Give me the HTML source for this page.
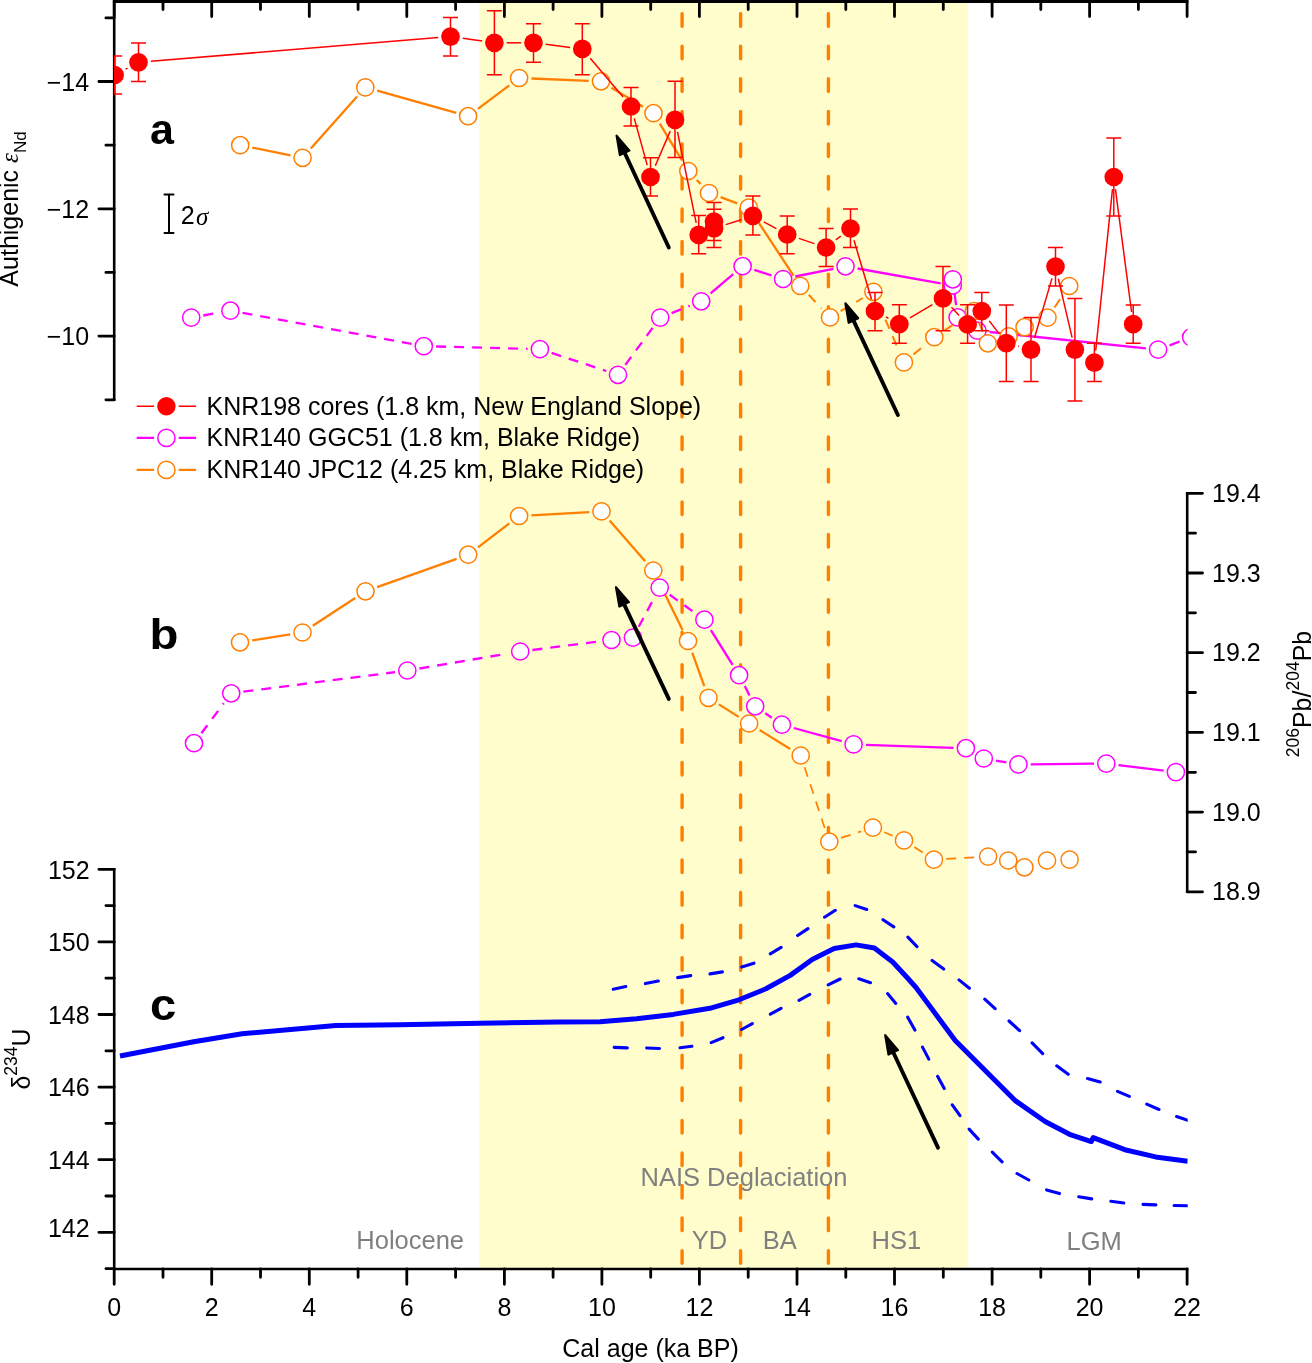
<!DOCTYPE html>
<html><head><meta charset="utf-8"><title>Chart</title>
<style>html,body{margin:0;padding:0;background:#fff;}svg{display:block;will-change:transform;}text{font-family:"Liberation Sans",sans-serif;}</style></head><body>
<svg width="1312" height="1363" viewBox="0 0 1312 1363">
<defs><clipPath id="pc"><rect x="114.0" y="0" width="1073.7" height="1363"/></clipPath></defs>
<rect width="1312" height="1363" fill="#fff"/>
<rect x="479.3" y="0" width="488.8" height="1268" fill="#FFFDCC"/>
<line x1="682.1" y1="13.7" x2="682.1" y2="1266" stroke="#FF7F00" stroke-width="3.4" stroke-linecap="round" stroke-dasharray="12.6 19.95"/>
<line x1="740.6" y1="13.7" x2="740.6" y2="1266" stroke="#FF7F00" stroke-width="3.4" stroke-linecap="round" stroke-dasharray="12.6 19.95"/>
<line x1="828.4" y1="13.7" x2="828.4" y2="1266" stroke="#FF7F00" stroke-width="3.4" stroke-linecap="round" stroke-dasharray="12.6 19.95"/>
<g fill="#808080" font-size="25.5">
<text x="640.5" y="1186">NAIS Deglaciation</text>
<text x="356.3" y="1249.3">Holocene</text>
<text x="691.7" y="1249.3">YD</text>
<text x="762.7" y="1249.3">BA</text>
<text x="871.6" y="1249.3">HS1</text>
<text x="1066.5" y="1249.5">LGM</text>
</g>
<line x1="112.9" y1="1.45" x2="1188.4" y2="1.45" stroke="#000" stroke-width="2.9"/>
<line x1="112.9" y1="1269" x2="1188.4" y2="1269" stroke="#000" stroke-width="2.6"/>
<line x1="114.2" y1="0" x2="114.2" y2="401.1" stroke="#000" stroke-width="2.6"/>
<line x1="114.2" y1="868" x2="114.2" y2="1269" stroke="#000" stroke-width="2.6"/>
<line x1="1187.2" y1="492" x2="1187.2" y2="893.1" stroke="#000" stroke-width="2.6"/>
<path d="M114.2 1.3V16.6M114.2 1269V1284.3M163 1.3V9.6M163 1269V1277.3M211.7 1.3V16.6M211.7 1269V1284.3M260.5 1.3V9.6M260.5 1269V1277.3M309.3 1.3V16.6M309.3 1269V1284.3M358.1 1.3V9.6M358.1 1269V1277.3M406.8 1.3V16.6M406.8 1269V1284.3M455.6 1.3V9.6M455.6 1269V1277.3M504.4 1.3V16.6M504.4 1269V1284.3M553.1 1.3V9.6M553.1 1269V1277.3M601.9 1.3V16.6M601.9 1269V1284.3M650.7 1.3V9.6M650.7 1269V1277.3M699.4 1.3V16.6M699.4 1269V1284.3M748.2 1.3V9.6M748.2 1269V1277.3M797 1.3V16.6M797 1269V1284.3M845.8 1.3V9.6M845.8 1269V1277.3M894.5 1.3V16.6M894.5 1269V1284.3M943.3 1.3V9.6M943.3 1269V1277.3M992.1 1.3V16.6M992.1 1269V1284.3M1040.8 1.3V9.6M1040.8 1269V1277.3M1089.6 1.3V16.6M1089.6 1269V1284.3M1138.4 1.3V9.6M1138.4 1269V1277.3M1187.1 1.3V16.6M1187.1 1269V1284.3M114.2 17.9H105.9M114.2 81.5H98.9M114.2 145.2H105.9M114.2 208.8H98.9M114.2 272.4H105.9M114.2 336.1H98.9M114.2 399.8H105.9M114.2 1268.6H105.9M114.2 1232.3H98.9M114.2 1196H105.9M114.2 1159.7H98.9M114.2 1123.4H105.9M114.2 1087.1H98.9M114.2 1050.8H105.9M114.2 1014.5H98.9M114.2 978.2H105.9M114.2 941.9H98.9M114.2 905.6H105.9M114.2 869.3H98.9M1187.2 493.3H1202.5M1187.2 533.2H1195.5M1187.2 573H1202.5M1187.2 612.8H1195.5M1187.2 652.7H1202.5M1187.2 692.5H1195.5M1187.2 732.4H1202.5M1187.2 772.3H1195.5M1187.2 812.1H1202.5M1187.2 851.9H1195.5M1187.2 891.8H1202.5" stroke="#000" stroke-width="2.8" fill="none" stroke-linecap="round"/>
<g clip-path="url(#pc)">
<path d="M613.2 989.2L625.8 986.6M645.4 983.6L658.3 981M677.6 977.6L690.7 975.6M710 973.9L722.4 971.9M741.7 967.1L753.9 963.2M770.3 953.8L781.1 947.4M797.6 935.5L808 928.6M824.5 917.2L835.3 910.3M855.2 905.6L866.8 909.5M883 919.7L893.8 926.9M907.9 937.2L917 946.6M932.1 960.5L943.7 969M959 979.9L969.4 988.2M984.7 999.2L995.1 1008.7M1009 1021L1019.6 1030.6M1032.1 1042.9L1042.7 1053.6M1056.7 1065.8L1068.2 1074.3M1087.5 1078.6L1100.2 1082M1117.5 1091.4L1129.4 1096.4M1146.7 1104.1L1159 1109.5M1176.6 1116.5L1188.5 1120.5" fill="none" stroke="#0000FF" stroke-width="3.1" stroke-linecap="round"/>
<path d="M614.2 1047.4L627.3 1047.9M646.6 1048L659.5 1048.5M680 1047.8L691.9 1046.3M711.2 1042.6L723 1037.7M741.6 1029.5L752.3 1023.6M770.4 1014.2L781 1008.3M799 1000.3L809.8 994.4M828.2 984.9L840.1 979M858.8 978.8L870.5 982.7M887.6 993.6L895.8 1003.4M907.7 1017.2L914.9 1030.1M922.5 1047.1L928.8 1059.1M937.6 1076.3L944.3 1088.4M952.3 1104.8L960 1115.7M969.1 1129.1L978.3 1139.1M992.3 1152.1L1002.1 1161.8M1017 1173.5L1028.8 1180M1046.6 1189.9L1059.5 1193.6M1078.7 1196.7L1091.7 1198.9M1110.9 1201.3L1123.8 1203M1143 1204.4L1155.9 1204.9M1174.1 1205.5L1188.5 1205.7" fill="none" stroke="#0000FF" stroke-width="3.1" stroke-linecap="round"/>
<polyline points="120,1056 193.7,1041.8 242.1,1033.7 335.8,1025.6 400,1024.7 480,1023.2 560,1022 600,1021.7 636.6,1018.8 673.2,1014.4 709.8,1008.3 739,999.8 765.9,988.8 790.2,975.4 812.2,959.5 834.1,948.5 856.1,944.9 874.4,948 892.7,962 907.3,977.8 916,987.5 938,1017.2 955.2,1040.5 1015.6,1100.9 1045.1,1121.5 1069.5,1134.3 1091.4,1141.5 1093.2,1137.6 1124.8,1149.7 1155.6,1156.9 1187.7,1161.3" fill="none" stroke="#0000FF" stroke-width="5" stroke-linejoin="round"/>
<line x1="201.4" y1="733.3" x2="223.8" y2="703.2" stroke="#FF00FF" stroke-width="2.3" stroke-dasharray="10 8"/>
<line x1="243.4" y1="691.7" x2="395.1" y2="672.1" stroke="#FF00FF" stroke-width="2.3" stroke-dasharray="10 8"/>
<line x1="419.4" y1="668.5" x2="508.1" y2="653.5" stroke="#FF00FF" stroke-width="2.3" stroke-dasharray="10 8"/>
<line x1="532.4" y1="650" x2="599.3" y2="641.5" stroke="#FF00FF" stroke-width="2.3" stroke-dasharray="10 8"/>
<line x1="638.7" y1="626.8" x2="653.9" y2="598.4" stroke="#FF00FF" stroke-width="2.3" stroke-dasharray="10 8"/>
<line x1="669.7" y1="594.8" x2="694.4" y2="612.5" stroke="#FF00FF" stroke-width="2.3" stroke-dasharray="10 8"/>
<line x1="710.9" y1="630.1" x2="732.6" y2="664.8" stroke="#FF00FF" stroke-width="2.3"/>
<line x1="744.8" y1="686.1" x2="749.5" y2="695.4" stroke="#FF00FF" stroke-width="2.3"/>
<line x1="765.3" y1="713.3" x2="771.8" y2="717.7" stroke="#FF00FF" stroke-width="2.3"/>
<line x1="793.8" y1="728" x2="841.7" y2="741.1" stroke="#FF00FF" stroke-width="2.3"/>
<line x1="865.9" y1="744.8" x2="953.6" y2="747.8" stroke="#FF00FF" stroke-width="2.3"/>
<line x1="995.9" y1="760.6" x2="1006.3" y2="762.3" stroke="#FF00FF" stroke-width="2.3"/>
<line x1="1030.7" y1="764.3" x2="1094" y2="763.7" stroke="#FF00FF" stroke-width="2.3"/>
<line x1="1118.5" y1="765.1" x2="1163.7" y2="770.6" stroke="#FF00FF" stroke-width="2.3"/>
<line x1="252.2" y1="640.4" x2="290.3" y2="634.4" stroke="#FF7F00" stroke-width="2.3"/>
<line x1="312.8" y1="625.8" x2="355.2" y2="598" stroke="#FF7F00" stroke-width="2.3"/>
<line x1="377.1" y1="587.2" x2="456.6" y2="558.8" stroke="#FF7F00" stroke-width="2.3"/>
<line x1="478" y1="547.3" x2="509.3" y2="523.4" stroke="#FF7F00" stroke-width="2.3"/>
<line x1="531.4" y1="515.3" x2="589.2" y2="512.1" stroke="#FF7F00" stroke-width="2.3"/>
<line x1="609.6" y1="520.6" x2="645.2" y2="561.3" stroke="#FF7F00" stroke-width="2.3"/>
<line x1="658.7" y1="581.5" x2="682.6" y2="630" stroke="#FF7F00" stroke-width="2.3"/>
<line x1="692.2" y1="652.6" x2="704.3" y2="686.2" stroke="#FF7F00" stroke-width="2.3"/>
<line x1="718.9" y1="704.4" x2="738.7" y2="716.9" stroke="#FF7F00" stroke-width="2.3"/>
<line x1="759.6" y1="730" x2="790.2" y2="749" stroke="#FF7F00" stroke-width="2.3"/>
<line x1="804.6" y1="767.2" x2="825.4" y2="830" stroke="#FF7F00" stroke-width="1.7" stroke-dasharray="10 8"/>
<line x1="841" y1="837.9" x2="861.2" y2="831.4" stroke="#FF7F00" stroke-width="1.7" stroke-dasharray="10 8"/>
<line x1="884.3" y1="832.3" x2="892.6" y2="835.7" stroke="#FF7F00" stroke-width="1.7" stroke-dasharray="10 8"/>
<line x1="914.3" y1="847" x2="923.6" y2="853" stroke="#FF7F00" stroke-width="1.7" stroke-dasharray="10 8"/>
<line x1="946.2" y1="858.9" x2="975.8" y2="857.3" stroke="#FF7F00" stroke-width="1.7" stroke-dasharray="10 8"/>
<circle cx="194" cy="743.2" r="8.6" fill="#fff" stroke="#FF00FF" stroke-width="1.5"/>
<circle cx="231.2" cy="693.3" r="8.6" fill="#fff" stroke="#FF00FF" stroke-width="1.5"/>
<circle cx="407.3" cy="670.5" r="8.6" fill="#fff" stroke="#FF00FF" stroke-width="1.5"/>
<circle cx="520.2" cy="651.5" r="8.6" fill="#fff" stroke="#FF00FF" stroke-width="1.5"/>
<circle cx="611.5" cy="640" r="8.6" fill="#fff" stroke="#FF00FF" stroke-width="1.5"/>
<circle cx="632.9" cy="637.6" r="8.6" fill="#fff" stroke="#FF00FF" stroke-width="1.5"/>
<circle cx="659.7" cy="587.6" r="8.6" fill="#fff" stroke="#FF00FF" stroke-width="1.5"/>
<circle cx="704.4" cy="619.7" r="8.6" fill="#fff" stroke="#FF00FF" stroke-width="1.5"/>
<circle cx="739.1" cy="675.2" r="8.6" fill="#fff" stroke="#FF00FF" stroke-width="1.5"/>
<circle cx="755.2" cy="706.3" r="8.6" fill="#fff" stroke="#FF00FF" stroke-width="1.5"/>
<circle cx="781.9" cy="724.7" r="8.6" fill="#fff" stroke="#FF00FF" stroke-width="1.5"/>
<circle cx="853.6" cy="744.4" r="8.6" fill="#fff" stroke="#FF00FF" stroke-width="1.5"/>
<circle cx="965.9" cy="748.2" r="8.6" fill="#fff" stroke="#FF00FF" stroke-width="1.5"/>
<circle cx="983.8" cy="758.5" r="8.6" fill="#fff" stroke="#FF00FF" stroke-width="1.5"/>
<circle cx="1018.4" cy="764.4" r="8.6" fill="#fff" stroke="#FF00FF" stroke-width="1.5"/>
<circle cx="1106.3" cy="763.6" r="8.6" fill="#fff" stroke="#FF00FF" stroke-width="1.5"/>
<circle cx="1175.9" cy="772.1" r="8.6" fill="#fff" stroke="#FF00FF" stroke-width="1.5"/>
<circle cx="240" cy="642.3" r="8.6" fill="#fff" stroke="#FF7F00" stroke-width="1.5"/>
<circle cx="302.5" cy="632.5" r="8.6" fill="#fff" stroke="#FF7F00" stroke-width="1.5"/>
<circle cx="365.5" cy="591.3" r="8.6" fill="#fff" stroke="#FF7F00" stroke-width="1.5"/>
<circle cx="468.2" cy="554.7" r="8.6" fill="#fff" stroke="#FF7F00" stroke-width="1.5"/>
<circle cx="519.1" cy="516" r="8.6" fill="#fff" stroke="#FF7F00" stroke-width="1.5"/>
<circle cx="601.5" cy="511.4" r="8.6" fill="#fff" stroke="#FF7F00" stroke-width="1.5"/>
<circle cx="653.3" cy="570.5" r="8.6" fill="#fff" stroke="#FF7F00" stroke-width="1.5"/>
<circle cx="688" cy="641" r="8.6" fill="#fff" stroke="#FF7F00" stroke-width="1.5"/>
<circle cx="708.5" cy="697.8" r="8.6" fill="#fff" stroke="#FF7F00" stroke-width="1.5"/>
<circle cx="749.1" cy="723.5" r="8.6" fill="#fff" stroke="#FF7F00" stroke-width="1.5"/>
<circle cx="800.7" cy="755.5" r="8.6" fill="#fff" stroke="#FF7F00" stroke-width="1.5"/>
<circle cx="829.3" cy="841.7" r="8.6" fill="#fff" stroke="#FF7F00" stroke-width="1.5"/>
<circle cx="872.9" cy="827.6" r="8.6" fill="#fff" stroke="#FF7F00" stroke-width="1.5"/>
<circle cx="904" cy="840.4" r="8.6" fill="#fff" stroke="#FF7F00" stroke-width="1.5"/>
<circle cx="933.9" cy="859.6" r="8.6" fill="#fff" stroke="#FF7F00" stroke-width="1.5"/>
<circle cx="988.1" cy="856.6" r="8.6" fill="#fff" stroke="#FF7F00" stroke-width="1.5"/>
<circle cx="1008.2" cy="860.5" r="8.6" fill="#fff" stroke="#FF7F00" stroke-width="1.5"/>
<circle cx="1024.4" cy="867.3" r="8.6" fill="#fff" stroke="#FF7F00" stroke-width="1.5"/>
<circle cx="1047" cy="860.5" r="8.6" fill="#fff" stroke="#FF7F00" stroke-width="1.5"/>
<circle cx="1069.6" cy="859.6" r="8.6" fill="#fff" stroke="#FF7F00" stroke-width="1.5"/>
<line x1="203.3" y1="315.5" x2="218.3" y2="312.8" stroke="#FF00FF" stroke-width="2.3" stroke-dasharray="10 8"/>
<line x1="242.5" y1="312.9" x2="411.7" y2="344" stroke="#FF00FF" stroke-width="2.3" stroke-dasharray="10 8"/>
<line x1="436.1" y1="346.5" x2="527.6" y2="348.8" stroke="#FF00FF" stroke-width="2.3" stroke-dasharray="10 8"/>
<line x1="551.6" y1="352.9" x2="606.3" y2="371" stroke="#FF00FF" stroke-width="2.3" stroke-dasharray="10 8"/>
<line x1="625.3" y1="364.9" x2="652.9" y2="327.5" stroke="#FF00FF" stroke-width="2.3" stroke-dasharray="10 8"/>
<line x1="671.6" y1="313.1" x2="689.8" y2="305.8" stroke="#FF00FF" stroke-width="2.3" stroke-dasharray="10 8"/>
<line x1="710.6" y1="293.3" x2="733.2" y2="274.2" stroke="#FF00FF" stroke-width="2.3"/>
<line x1="754.3" y1="269.9" x2="771.4" y2="275.3" stroke="#FF00FF" stroke-width="2.3"/>
<line x1="795.2" y1="276.5" x2="833.4" y2="268.8" stroke="#FF00FF" stroke-width="2.3"/>
<line x1="857.6" y1="268.5" x2="940.7" y2="283.3" stroke="#FF00FF" stroke-width="2.3"/>
<line x1="954.3" y1="291.5" x2="956.1" y2="305.2" stroke="#FF00FF" stroke-width="2.3"/>
<line x1="989.6" y1="332" x2="1145.9" y2="348.3" stroke="#FF00FF" stroke-width="2.3"/>
<line x1="1169.6" y1="345.3" x2="1179.7" y2="341.5" stroke="#FF00FF" stroke-width="2.3"/>
<circle cx="191.2" cy="317.6" r="8.6" fill="#fff" stroke="#FF00FF" stroke-width="1.5"/>
<circle cx="230.4" cy="310.7" r="8.6" fill="#fff" stroke="#FF00FF" stroke-width="1.5"/>
<circle cx="423.8" cy="346.2" r="8.6" fill="#fff" stroke="#FF00FF" stroke-width="1.5"/>
<circle cx="539.9" cy="349.1" r="8.6" fill="#fff" stroke="#FF00FF" stroke-width="1.5"/>
<circle cx="618" cy="374.8" r="8.6" fill="#fff" stroke="#FF00FF" stroke-width="1.5"/>
<circle cx="660.2" cy="317.6" r="8.6" fill="#fff" stroke="#FF00FF" stroke-width="1.5"/>
<circle cx="701.2" cy="301.3" r="8.6" fill="#fff" stroke="#FF00FF" stroke-width="1.5"/>
<circle cx="742.6" cy="266.2" r="8.6" fill="#fff" stroke="#FF00FF" stroke-width="1.5"/>
<circle cx="783.1" cy="279" r="8.6" fill="#fff" stroke="#FF00FF" stroke-width="1.5"/>
<circle cx="845.5" cy="266.3" r="8.6" fill="#fff" stroke="#FF00FF" stroke-width="1.5"/>
<circle cx="952.8" cy="285.5" r="8.6" fill="#fff" stroke="#FF00FF" stroke-width="1.5"/>
<circle cx="952.8" cy="279.3" r="8.6" fill="#fff" stroke="#FF00FF" stroke-width="1.5"/>
<circle cx="957.6" cy="317.4" r="8.6" fill="#fff" stroke="#FF00FF" stroke-width="1.5"/>
<circle cx="977.4" cy="330.7" r="8.6" fill="#fff" stroke="#FF00FF" stroke-width="1.5"/>
<circle cx="1158.1" cy="349.6" r="8.6" fill="#fff" stroke="#FF00FF" stroke-width="1.5"/>
<circle cx="1191.2" cy="337.2" r="8.6" fill="#fff" stroke="#FF00FF" stroke-width="1.5"/>
<line x1="252.3" y1="147.6" x2="290.5" y2="155.4" stroke="#FF7F00" stroke-width="2.3"/>
<line x1="310.8" y1="148.6" x2="357.1" y2="96.6" stroke="#FF7F00" stroke-width="2.3"/>
<line x1="377.1" y1="90.7" x2="456.3" y2="112.9" stroke="#FF7F00" stroke-width="2.3"/>
<line x1="477.9" y1="108.8" x2="509.3" y2="85.4" stroke="#FF7F00" stroke-width="2.3"/>
<line x1="531.4" y1="78.5" x2="588.7" y2="80.8" stroke="#FF7F00" stroke-width="2.3"/>
<line x1="611.5" y1="87.7" x2="643" y2="106.8" stroke="#FF7F00" stroke-width="2.3"/>
<line x1="659.8" y1="123.7" x2="682" y2="160.5" stroke="#FF7F00" stroke-width="2.3"/>
<line x1="696.7" y1="180" x2="700.6" y2="184" stroke="#FF7F00" stroke-width="2.3"/>
<line x1="720.6" y1="197.2" x2="737.2" y2="203.3" stroke="#FF7F00" stroke-width="2.3"/>
<line x1="755.5" y1="217.8" x2="793.5" y2="275.6" stroke="#FF7F00" stroke-width="2.3"/>
<line x1="808.7" y1="294.8" x2="821.5" y2="308.5" stroke="#FF7F00" stroke-width="2.0" stroke-dasharray="10 8"/>
<line x1="840.6" y1="311.2" x2="862.8" y2="298" stroke="#FF7F00" stroke-width="2.0" stroke-dasharray="10 8"/>
<line x1="878.3" y1="303.1" x2="899" y2="351.1" stroke="#FF7F00" stroke-width="2.0" stroke-dasharray="10 8"/>
<line x1="913.4" y1="354.6" x2="924.8" y2="345" stroke="#FF7F00" stroke-width="2.0" stroke-dasharray="10 8"/>
<line x1="944.6" y1="330.4" x2="963.7" y2="317.8" stroke="#FF7F00" stroke-width="2.0" stroke-dasharray="10 8"/>
<line x1="978.8" y1="322.3" x2="983" y2="332" stroke="#FF7F00" stroke-width="2.0" stroke-dasharray="10 8"/>
<line x1="1035.9" y1="322.4" x2="1036.2" y2="322.4" stroke="#FF7F00" stroke-width="2.0" stroke-dasharray="10 8"/>
<line x1="1054.5" y1="307.5" x2="1062.2" y2="296.1" stroke="#FF7F00" stroke-width="2.0" stroke-dasharray="10 8"/>
<circle cx="240.2" cy="145.2" r="8.6" fill="#fff" stroke="#FF7F00" stroke-width="1.5"/>
<circle cx="302.6" cy="157.8" r="8.6" fill="#fff" stroke="#FF7F00" stroke-width="1.5"/>
<circle cx="365.3" cy="87.4" r="8.6" fill="#fff" stroke="#FF7F00" stroke-width="1.5"/>
<circle cx="468.1" cy="116.2" r="8.6" fill="#fff" stroke="#FF7F00" stroke-width="1.5"/>
<circle cx="519.1" cy="78" r="8.6" fill="#fff" stroke="#FF7F00" stroke-width="1.5"/>
<circle cx="601" cy="81.3" r="8.6" fill="#fff" stroke="#FF7F00" stroke-width="1.5"/>
<circle cx="653.5" cy="113.2" r="8.6" fill="#fff" stroke="#FF7F00" stroke-width="1.5"/>
<circle cx="688.3" cy="171" r="8.6" fill="#fff" stroke="#FF7F00" stroke-width="1.5"/>
<circle cx="709" cy="193" r="8.6" fill="#fff" stroke="#FF7F00" stroke-width="1.5"/>
<circle cx="748.8" cy="207.5" r="8.6" fill="#fff" stroke="#FF7F00" stroke-width="1.5"/>
<circle cx="800.2" cy="285.9" r="8.6" fill="#fff" stroke="#FF7F00" stroke-width="1.5"/>
<circle cx="830" cy="317.4" r="8.6" fill="#fff" stroke="#FF7F00" stroke-width="1.5"/>
<circle cx="873.4" cy="291.8" r="8.6" fill="#fff" stroke="#FF7F00" stroke-width="1.5"/>
<circle cx="903.9" cy="362.4" r="8.6" fill="#fff" stroke="#FF7F00" stroke-width="1.5"/>
<circle cx="934.3" cy="337.2" r="8.6" fill="#fff" stroke="#FF7F00" stroke-width="1.5"/>
<circle cx="974" cy="311" r="8.6" fill="#fff" stroke="#FF7F00" stroke-width="1.5"/>
<circle cx="987.8" cy="343.3" r="8.6" fill="#fff" stroke="#FF7F00" stroke-width="1.5"/>
<circle cx="1008.6" cy="336.4" r="8.6" fill="#fff" stroke="#FF7F00" stroke-width="1.5"/>
<circle cx="1024.6" cy="327.2" r="8.6" fill="#fff" stroke="#FF7F00" stroke-width="1.5"/>
<circle cx="1047.5" cy="317.6" r="8.6" fill="#fff" stroke="#FF7F00" stroke-width="1.5"/>
<circle cx="1069.2" cy="286" r="8.6" fill="#fff" stroke="#FF7F00" stroke-width="1.5"/>
<g stroke="#FF0000" stroke-width="1.5"><line x1="125.5" y1="69.2" x2="127.6" y2="68.1"/><line x1="150.8" y1="61.3" x2="438.2" y2="37.6"/><line x1="462.7" y1="38.3" x2="482.2" y2="41.1"/><line x1="506.7" y1="42.8" x2="521.2" y2="42.8"/><line x1="545.7" y1="44.3" x2="570.1" y2="47.4"/><line x1="590.2" y1="58.3" x2="623.1" y2="97.1"/><line x1="634.3" y1="118.4" x2="647.2" y2="165.1"/><line x1="655.3" y1="165.7" x2="670.2" y2="131.1"/><line x1="677.5" y1="131.8" x2="696.2" y2="222.9"/><line x1="725.7" y1="224.6" x2="741.2" y2="219.7"/><line x1="763.7" y1="221.8" x2="776.4" y2="228.6"/><line x1="798.9" y1="238.4" x2="814.4" y2="243.6"/><line x1="835.8" y1="239.9" x2="840.8" y2="236.1"/><line x1="854" y1="240.3" x2="871.5" y2="299.2"/><line x1="885.8" y1="316.9" x2="888.5" y2="318.3"/><line x1="909.9" y1="317.9" x2="932.4" y2="304.7"/><line x1="951.5" y1="307.3" x2="959.1" y2="315.5"/><line x1="989.3" y1="320.9" x2="998.8" y2="333.4"/><line x1="1018.2" y1="346.3" x2="1019.1" y2="346.5"/><line x1="1034.5" y1="337.8" x2="1052" y2="278.4"/><line x1="1058.3" y1="278.6" x2="1072.1" y2="337.6"/><line x1="1095.7" y1="350.5" x2="1112.5" y2="189.2"/><line x1="1115.4" y1="189.2" x2="1131.6" y2="312"/></g>
<path d="M114.6 56V94M107.1 56H122.1M107.1 94H122.1M138.5 42.9V81.4M131 42.9H146M131 81.4H146M450.5 17.6V56M443 17.6H458M443 56H458M494.4 10.7V74.8M486.9 10.7H501.9M486.9 74.8H501.9M533.5 23.8V62.2M526 23.8H541M526 62.2H541M582.3 23.8V74.8M574.8 23.8H589.8M574.8 74.8H589.8M631 87.5V125.9M623.5 87.5H638.5M623.5 125.9H638.5M650.5 157.7V196M643 157.7H658M643 196H658M675 81.3V157.6M667.5 81.3H682.5M667.5 157.6H682.5M698.7 215.5V253.7M691.2 215.5H706.2M691.2 253.7H706.2M714 202.4V240.6M706.5 202.4H721.5M706.5 240.6H721.5M714 209.3V247.5M706.5 209.3H721.5M706.5 247.5H721.5M752.9 196V234.9M745.4 196H760.4M745.4 234.9H760.4M787.2 215.9V253.7M779.7 215.9H794.7M779.7 253.7H794.7M826.1 228.5V266.5M818.6 228.5H833.6M818.6 266.5H833.6M850.5 209.1V247.5M843 209.1H858M843 247.5H858M875 292.5V330.7M867.5 292.5H882.5M867.5 330.7H882.5M899.3 304.8V343.3M891.8 304.8H906.8M891.8 343.3H906.8M943 266.6V330.7M935.5 266.6H950.5M935.5 330.7H950.5M967.6 304.8V343.3M960.1 304.8H975.1M960.1 343.3H975.1M981.8 292.5V330.7M974.3 292.5H989.3M974.3 330.7H989.3M1006.3 305V381.6M998.8 305H1013.8M998.8 381.6H1013.8M1031 317.6V381.6M1023.5 317.6H1038.5M1023.5 381.6H1038.5M1055.5 247.6V286M1048 247.6H1063M1048 286H1063M1074.9 298.6V400.9M1067.4 298.6H1082.4M1067.4 400.9H1082.4M1094.4 343.2V381.6M1086.9 343.2H1101.9M1086.9 381.6H1101.9M1113.8 138V215.9M1106.3 138H1121.3M1106.3 215.9H1121.3M1133.2 305V343.2M1125.7 305H1140.7M1125.7 343.2H1140.7" stroke="#FF0000" stroke-width="1.5" fill="none"/>
<circle cx="114.6" cy="75" r="9.35" fill="#FF0000"/><circle cx="138.5" cy="62.3" r="9.35" fill="#FF0000"/><circle cx="450.5" cy="36.6" r="9.35" fill="#FF0000"/><circle cx="494.4" cy="42.8" r="9.35" fill="#FF0000"/><circle cx="533.5" cy="42.8" r="9.35" fill="#FF0000"/><circle cx="582.3" cy="48.9" r="9.35" fill="#FF0000"/><circle cx="631" cy="106.5" r="9.35" fill="#FF0000"/><circle cx="650.5" cy="177" r="9.35" fill="#FF0000"/><circle cx="675" cy="119.8" r="9.35" fill="#FF0000"/><circle cx="698.7" cy="234.9" r="9.35" fill="#FF0000"/><circle cx="714" cy="221.5" r="9.35" fill="#FF0000"/><circle cx="714" cy="228.4" r="9.35" fill="#FF0000"/><circle cx="752.9" cy="215.9" r="9.35" fill="#FF0000"/><circle cx="787.2" cy="234.5" r="9.35" fill="#FF0000"/><circle cx="826.1" cy="247.5" r="9.35" fill="#FF0000"/><circle cx="850.5" cy="228.5" r="9.35" fill="#FF0000"/><circle cx="875" cy="311" r="9.35" fill="#FF0000"/><circle cx="899.3" cy="324.2" r="9.35" fill="#FF0000"/><circle cx="943" cy="298.4" r="9.35" fill="#FF0000"/><circle cx="967.6" cy="324.4" r="9.35" fill="#FF0000"/><circle cx="981.8" cy="311.1" r="9.35" fill="#FF0000"/><circle cx="1006.3" cy="343.2" r="9.35" fill="#FF0000"/><circle cx="1031" cy="349.6" r="9.35" fill="#FF0000"/><circle cx="1055.5" cy="266.6" r="9.35" fill="#FF0000"/><circle cx="1074.9" cy="349.6" r="9.35" fill="#FF0000"/><circle cx="1094.4" cy="362.7" r="9.35" fill="#FF0000"/><circle cx="1113.8" cy="177" r="9.35" fill="#FF0000"/><circle cx="1133.2" cy="324.2" r="9.35" fill="#FF0000"/>
</g>
<line x1="668.8" y1="247.5" x2="623.8" y2="151" stroke="#000" stroke-width="3.9" stroke-linecap="round"/><path d="M616.6 135.6 L629.4 150.6 L619.9 155 Z" fill="#000" stroke="#000" stroke-width="2.2" stroke-linejoin="round"/>
<line x1="897.9" y1="415" x2="852.6" y2="318.7" stroke="#000" stroke-width="3.9" stroke-linecap="round"/><path d="M845.4 303.3 L858.2 318.2 L848.7 322.7 Z" fill="#000" stroke="#000" stroke-width="2.2" stroke-linejoin="round"/>
<line x1="668.8" y1="698.9" x2="623.3" y2="602.6" stroke="#000" stroke-width="3.9" stroke-linecap="round"/><path d="M616 587.2 L628.9 602.1 L619.4 606.6 Z" fill="#000" stroke="#000" stroke-width="2.2" stroke-linejoin="round"/>
<line x1="938" y1="1147.7" x2="892.4" y2="1050.5" stroke="#000" stroke-width="3.9" stroke-linecap="round"/><path d="M885.2 1035.1 L898 1050.1 L888.5 1054.5 Z" fill="#000" stroke="#000" stroke-width="2.2" stroke-linejoin="round"/>
<g font-size="25" fill="#000">
<text x="89.2" y="90.7" text-anchor="end">−14</text>
<text x="89.2" y="218" text-anchor="end">−12</text>
<text x="89.2" y="345.3" text-anchor="end">−10</text>
<text x="89.6" y="1237.3" text-anchor="end">142</text>
<text x="89.6" y="1168.9" text-anchor="end">144</text>
<text x="89.6" y="1096.3" text-anchor="end">146</text>
<text x="89.6" y="1023.7" text-anchor="end">148</text>
<text x="89.6" y="951.1" text-anchor="end">150</text>
<text x="89.6" y="878.5" text-anchor="end">152</text>
<text x="1212" y="501.8">19.4</text>
<text x="1212" y="581.5">19.3</text>
<text x="1212" y="661.2">19.2</text>
<text x="1212" y="740.9">19.1</text>
<text x="1212" y="820.6">19.0</text>
<text x="1212" y="900.3">18.9</text>
<text x="114.2" y="1316" text-anchor="middle">0</text>
<text x="211.7" y="1316" text-anchor="middle">2</text>
<text x="309.3" y="1316" text-anchor="middle">4</text>
<text x="406.8" y="1316" text-anchor="middle">6</text>
<text x="504.4" y="1316" text-anchor="middle">8</text>
<text x="601.9" y="1316" text-anchor="middle">10</text>
<text x="699.4" y="1316" text-anchor="middle">12</text>
<text x="797" y="1316" text-anchor="middle">14</text>
<text x="894.5" y="1316" text-anchor="middle">16</text>
<text x="992.1" y="1316" text-anchor="middle">18</text>
<text x="1089.6" y="1316" text-anchor="middle">20</text>
<text x="1187.1" y="1316" text-anchor="middle">22</text>
<text x="650.5" y="1357" text-anchor="middle">Cal age (ka BP)</text>
<text transform="translate(18.3,209) rotate(-90)" text-anchor="middle">Authigenic <tspan font-family="Liberation Serif" font-style="italic" font-size="25">ε</tspan><tspan font-size="17" dy="8">Nd</tspan></text>
<text transform="translate(1310.8,694) rotate(-90)" text-anchor="middle"><tspan font-size="17.5" dy="-12">206</tspan><tspan dy="12">Pb/</tspan><tspan font-size="17.5" dy="-12">204</tspan><tspan dy="12">Pb</tspan></text>
<text transform="translate(29.5,1059) rotate(-90)" text-anchor="middle">δ<tspan font-size="17.5" dy="-12.5">234</tspan><tspan dy="12.5">U</tspan></text>
</g>
<g font-size="43" font-weight="bold" fill="#000">
<text x="150" y="144">a</text>
<text transform="translate(149.5,648.6) scale(1.1,1.0)">b</text>
<text transform="translate(150,1019.5) scale(1.1,1.04)">c</text>
</g>
<path d="M169 194.6V233M164.5 194.6H173.5M164.5 233H173.5" stroke="#000" stroke-width="2" fill="none" stroke-linecap="round"/>
<text x="180.7" y="224" font-size="25">2<tspan font-family="Liberation Serif" font-style="italic" dx="1.5" dy="0.6">σ</tspan></text>
<path d="M136.7 406.3H154.1M178.7 406.3H196.1" stroke="#FF0000" stroke-width="1.5"/>
<circle cx="166.4" cy="406.3" r="9.2" fill="#FF0000"/>
<text x="206.5" y="414.8" font-size="25">KNR198 cores (1.8 km, New England Slope)</text>
<path d="M136.7 437.9H154.1M178.7 437.9H196.1" stroke="#FF00FF" stroke-width="2.2"/>
<circle cx="166.4" cy="437.9" r="8.6" fill="#fff" stroke="#FF00FF" stroke-width="1.5"/>
<text x="206.5" y="446.4" font-size="25">KNR140 GGC51 (1.8 km, Blake Ridge)</text>
<path d="M136.7 469.9H154.1M178.7 469.9H196.1" stroke="#FF7F00" stroke-width="2.2"/>
<circle cx="166.4" cy="469.9" r="8.6" fill="#fff" stroke="#FF7F00" stroke-width="1.5"/>
<text x="206.5" y="478.4" font-size="25">KNR140 JPC12 (4.25 km, Blake Ridge)</text>
</svg>
</body></html>
